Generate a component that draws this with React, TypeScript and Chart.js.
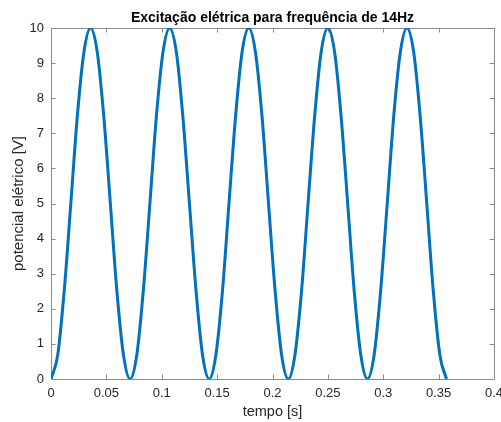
import React, { useEffect, useRef } from "react";
import { Chart, registerables } from "chart.js";

Chart.register(...registerables);

const TITLE = "Excitação elétrica para frequência de 14Hz";
const X_LABEL = "tempo [s]";
const Y_LABEL = "potencial elétrico [V]";

const timeS: number[] = [
  0, 0.006, 0.0119, 0.0179, 0.0238, 0.0298, 0.0357, 0.0417, 0.0476, 0.0536, 0.0595, 0.0655,
  0.0714, 0.0774, 0.0833, 0.0893, 0.0952, 0.1012, 0.1071, 0.1131, 0.119, 0.125, 0.131, 0.1369,
  0.1429, 0.1488, 0.1548, 0.1607, 0.1667, 0.1726, 0.1786, 0.1845, 0.1905, 0.1964, 0.2024, 0.2083,
  0.2143, 0.2202, 0.2262, 0.2321, 0.2381, 0.244, 0.25, 0.256, 0.2619, 0.2679, 0.2738, 0.2798,
  0.2857, 0.2917, 0.2976, 0.3036, 0.3095, 0.3155, 0.3214, 0.3274, 0.3333, 0.3393, 0.3452, 0.3512,
  0.3571,
];

const voltageV: number[] = [
  0, 0.67, 2.5, 5, 7.5, 9.33, 10, 9.33, 7.5, 5, 2.5, 0.67,
  0, 0.67, 2.5, 5, 7.5, 9.33, 10, 9.33, 7.5, 5, 2.5, 0.67,
  0, 0.67, 2.5, 5, 7.5, 9.33, 10, 9.33, 7.5, 5, 2.5, 0.67,
  0, 0.67, 2.5, 5, 7.5, 9.33, 10, 9.33, 7.5, 5, 2.5, 0.67,
  0, 0.67, 2.5, 5, 7.5, 9.33, 10, 9.33, 7.5, 5, 2.5, 0.67,
  0,
];

const xTicks: number[] = [0, 0.05, 0.1, 0.15, 0.2, 0.25, 0.3, 0.35, 0.4];
const yTicks: number[] = [0, 1, 2, 3, 4, 5, 6, 7, 8, 9, 10];

const FONT = "'Liberation Sans', Arial, Helvetica, sans-serif";
const TEXT_COLOR = "#262626";
const AXIS_COLOR = "#8a8a8a";

const boxPlugin = {
  id: "matlabBox",
  beforeDatasetsDraw(chart: any) {
    const { ctx, chartArea } = chart;
    const { left, right, top, bottom } = chartArea;
    const xs = chart.scales.x;
    const ys = chart.scales.y;
    const tl = 4.5;
    ctx.save();
    ctx.strokeStyle = AXIS_COLOR;
    ctx.lineWidth = 1;
    ctx.beginPath();
    ctx.rect(Math.round(left) + 0.5, Math.round(top) + 0.5, Math.round(right - left), Math.round(bottom - top));
    ctx.stroke();
    ctx.beginPath();
    for (const v of xTicks) {
      const px = Math.round(xs.getPixelForValue(v)) + 0.5;
      ctx.moveTo(px, bottom);
      ctx.lineTo(px, bottom - tl);
      ctx.moveTo(px, top);
      ctx.lineTo(px, top + tl);
    }
    for (const v of yTicks) {
      const py = Math.round(ys.getPixelForValue(v)) + 0.5;
      ctx.moveTo(left, py);
      ctx.lineTo(left + tl, py);
      ctx.moveTo(right, py);
      ctx.lineTo(right - tl, py);
    }
    ctx.stroke();
    ctx.restore();
  },
};

export default function App() {
  const ref = useRef<HTMLCanvasElement | null>(null);

  useEffect(() => {
    if (!ref.current) return;
    const points = timeS.map((t, i) => ({ x: t, y: voltageV[i] }));
    const chart = new Chart(ref.current, {
      type: "line",
      data: {
        datasets: [
          {
            data: points,
            borderColor: "#0072BD",
            borderWidth: 3,
            pointRadius: 0,
            fill: false,
            cubicInterpolationMode: "monotone",
          },
        ],
      },
      options: {
        responsive: false,
        animation: false,
        devicePixelRatio: 1,
        layout: { padding: { left: 0, right: 7, top: 0, bottom: 0 } },
        plugins: {
          legend: { display: false },
          tooltip: { enabled: false },
          title: {
            display: true,
            text: TITLE,
            fullSize: false,
            color: "#000000",
            font: { family: FONT, size: 14, weight: "bold", lineHeight: 1.2 },
            padding: { top: 10, bottom: 1.2 },
          },
        },
        scales: {
          x: {
            type: "linear",
            min: 0,
            max: 0.4,
            afterBuildTicks(scale: any) {
              scale.ticks = xTicks.map((v) => ({ value: v }));
            },
            afterFit(scale: any) {
              scale.height = 43;
              scale.paddingRight = 0;
              scale.paddingLeft = 0;
            },
            grid: { display: false, drawTicks: false },
            border: { display: false },
            ticks: {
              color: TEXT_COLOR,
              font: { family: FONT, size: 13 },
              padding: 7,
              maxRotation: 0,
              autoSkip: false,
              callback: (v: any) => String(Number(v.toFixed(2))),
            },
            title: {
              display: true,
              text: X_LABEL,
              color: TEXT_COLOR,
              font: { family: FONT, size: 14.5, lineHeight: 1.2 },
              padding: { top: 0, bottom: 1 },
            },
          },
          y: {
            type: "linear",
            min: 0,
            max: 10,
            afterBuildTicks(scale: any) {
              scale.ticks = yTicks.map((v) => ({ value: v }));
            },
            afterFit(scale: any) {
              scale.width = 51;
              scale.paddingTop = 0;
              scale.paddingBottom = 0;
            },
            grid: { display: false, drawTicks: false },
            border: { display: false },
            ticks: {
              color: TEXT_COLOR,
              font: { family: FONT, size: 13 },
              padding: 7,
              autoSkip: false,
            },
            title: {
              display: true,
              text: Y_LABEL,
              color: TEXT_COLOR,
              font: { family: FONT, size: 15, lineHeight: 1.2 },
              padding: { top: 10, bottom: 0 },
            },
          },
        },
      },
      plugins: [boxPlugin],
    } as any);
    return () => chart.destroy();
  }, []);

  return (
    <div style={{ position: "fixed", left: 0, top: 0, width: 501, height: 422, background: "#ffffff" }}>
      <canvas ref={ref} width={501} height={422} style={{ display: "block" }} />
    </div>
  );
}
